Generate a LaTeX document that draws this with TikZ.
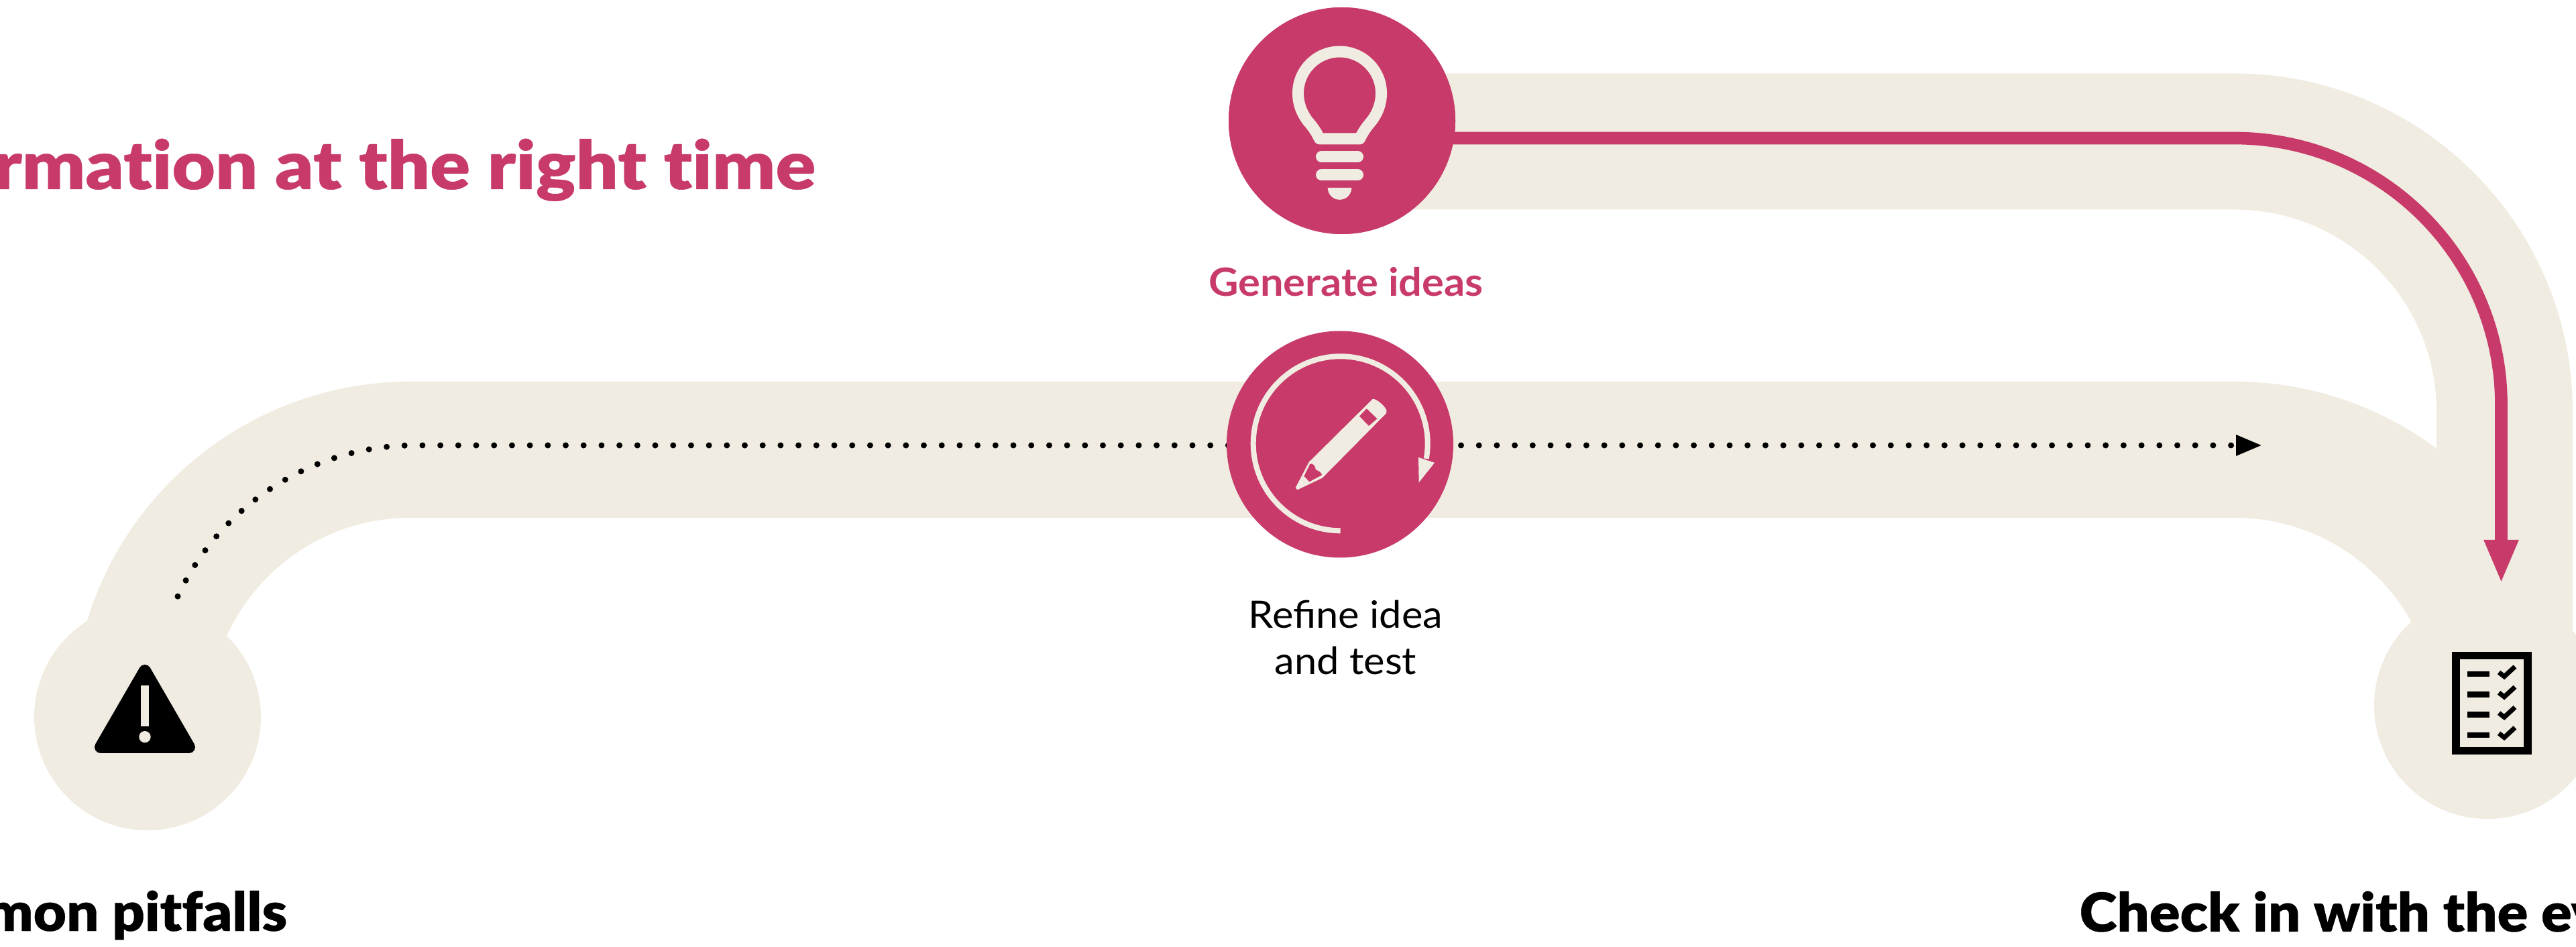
\documentclass[tikz,border=0pt]{standalone}
\usepackage{fontspec}
\setmainfont[FakeStretch=1.06]{Lato}
\newfontfamily\headfont[FakeStretch=1.11, FakeBold=0.4, RawFeature=-liga]{Lato Black}
\newfontfamily\stepfont[FakeStretch=1.06, FakeBold=0.4, RawFeature=-liga]{Lato Black}
\usepackage{tikz}
\usetikzlibrary{arrows.meta, backgrounds}
\definecolor{sand}{HTML}{F0ECE1}
\definecolor{berry}{HTML}{C83A6A}
\tikzset{
hub/.style={circle, minimum size=3.38cm, inner sep=0pt}, % the big round stations
band/.style={draw=sand, line width=2.03cm}, % wide pale roads behind everything
redline/.style={draw=berry, line width=0.187cm, -{Triangle[length=0.65cm, width=0.47cm]}},
dotline/.style={draw=black, line width=0.09cm, line cap=round, dash pattern=on 0pt off 0.267cm, -{Triangle[length=0.39cm, width=0.29cm]}},
iconline/.style={draw=sand, line width=0.17cm, line join=round},
headtext/.style={font=\headfont\fontsize{28.5}{34}\selectfont, text=berry, inner sep=0pt},
steptext/.style={font=\stepfont\fontsize{22.8}{27}\selectfont, inner sep=0pt},
}

\begin{document}
\begin{tikzpicture}
\path[use as bounding box, clip] (0,0) rectangle (38.41,14.11);

\node[hub, fill=berry] (ideas) at (20.01,12.31) {};
\node[hub, fill=berry] (refine) at (19.98,7.485) {};
\node[hub, fill=sand] (pitfalls) at (2.20,3.42) {};
\node[hub, fill=sand] (checkin) at (37.09,3.59) {};

\coordinate (ideasout) at (20.01,12.00);
\coordinate (ideasin) at (37.345,3.59);
\coordinate (roadout) at (2.095,3.38);
\coordinate (redout) at (20.01,12.05);
\coordinate (redin) at (37.295,5.41);
\coordinate (dotout) at (2.65,5.218);
\coordinate (dotin) at (33.73,7.47);

\begin{scope}[on background layer]
\draw[band] (ideasout) -- (33.32,12.00) arc[start angle=90, end angle=0, radius=4.025] -- (ideasin);
\draw[band] (roadout) arc[start angle=180, end angle=90, radius=4.025] -- (33.32,7.405) arc[start angle=90, end angle=0, radius=4.025];
\draw[dotline] (dotout) arc[start angle=155, end angle=90, radius=3.9] -- (dotin);
\end{scope}
\draw[redline] (redout) -- (33.32,12.05) arc[start angle=90, end angle=0, radius=3.975] -- (redin);
\fill[berry] (ideas) circle (1.69);

% light bulb
\begin{scope}[shift={(19.975,12.72)}]
\draw[iconline] (-0.30,-0.68) .. controls (-0.36,-0.55) and (-0.42,-0.48) .. (-0.48,-0.41) .. controls (-0.56,-0.30) and (-0.62,-0.17) .. (-0.62,0) arc[start angle=180, end angle=0, radius=0.62] .. controls (0.62,-0.17) and (0.56,-0.30) .. (0.48,-0.41) .. controls (0.42,-0.48) and (0.36,-0.55) .. (0.30,-0.68) -- cycle;
\draw[iconline, line cap=round] (-0.27,-0.947) -- (0.27,-0.947) (-0.27,-1.22) -- (0.27,-1.22);
\fill[sand] (-0.178,-1.41) arc[start angle=180, end angle=360, radius=0.178] -- cycle;
\end{scope}

% pencil in a ring
\begin{scope}[shift={(19.987,7.497)}]
\draw[draw=sand, line width=0.08cm] (0,-1.30) arc[start angle=270, end angle=-10, radius=1.30];
\fill[sand] (1.163,-0.207) -- (1.403,-0.287) -- (1.17,-0.58) -- cycle;
\fill[sand] (0.48,0.663) .. controls (0.53,0.68) and (0.70,0.53) .. (0.687,0.48) -- (0.68,0.447) -- (-0.27,-0.513) -- (-0.64,-0.69) -- (-0.67,-0.66) -- (-0.47,-0.277) -- cycle;
\fill[berry] (-0.453,-0.303) -- (-0.543,-0.487) -- (-0.463,-0.57) -- (-0.277,-0.47) .. controls (-0.30,-0.40) and (-0.34,-0.42) .. (-0.37,-0.387) .. controls (-0.37,-0.34) and (-0.41,-0.29) .. cycle;
\fill[berry] (0.39,0.52) -- (0.547,0.37) -- (0.423,0.263) -- (0.283,0.407) -- cycle;
\end{scope}

% warning sign
\filldraw[line width=0.18cm, line join=round] (2.16,4.11) -- (1.50,2.97) -- (2.82,2.97) -- cycle;
\fill[sand] (2.103,3.893) rectangle (2.217,3.28);
\fill[sand] (2.16,3.123) circle (0.087);

% checklist
\draw[line width=0.115cm] (36.62,4.335) rectangle (37.69,2.915);
\draw[line width=0.085cm] (36.79,4.06) -- (37.12,4.06) (36.79,3.757) -- (37.12,3.757) (36.79,3.454) -- (37.12,3.454) (36.79,3.151) -- (37.12,3.151);
\draw[line width=0.07cm] (37.26,4.085) -- (37.34,4.023) -- (37.50,4.17) (37.26,3.782) -- (37.34,3.72) -- (37.50,3.867) (37.26,3.479) -- (37.34,3.417) -- (37.50,3.564) (37.26,3.176) -- (37.34,3.114) -- (37.50,3.261);

\node[headtext, anchor=base east] (headline) at (12.17,11.29) {rmation at the right time};
\node[font=\bfseries\fontsize{16.5}{20}\selectfont, text=berry, inner sep=0pt, anchor=base] (ideaslabel) at (20.07,9.69) {Generate ideas};
\node[font=\fontsize{16}{19.6}\selectfont, align=center, inner sep=0pt, anchor=base] (refinelabel) at (20.065,4.06) {Refine idea\\and test};
\node[steptext, anchor=base east] (pitfallslabel) at (4.29,0.23) {mon pitfalls};
\node[steptext, anchor=base west] (checkinlabel) at (31.00,0.22) {Check in with the ev};

\end{tikzpicture}
\end{document}
